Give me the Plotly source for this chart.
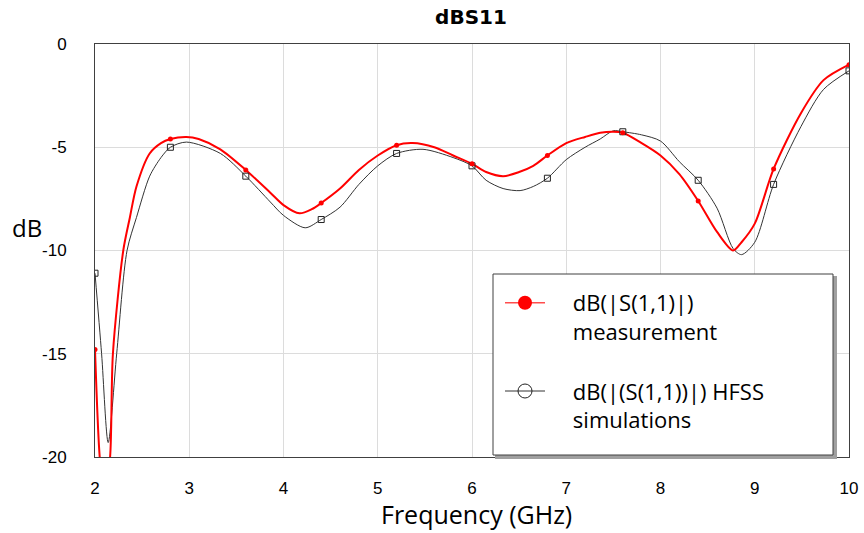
import plotly.graph_objects as go

# Measurement curve (red)
meas_x = [2.00, 2.05, 2.10, 2.16, 2.19, 2.30, 2.37, 2.44, 2.58, 2.70, 2.80, 2.97, 3.10, 3.33, 3.60,
          3.86, 4.00, 4.17, 4.30, 4.40, 4.60, 4.80, 5.00, 5.20, 5.37, 5.60, 5.80, 6.00, 6.15, 6.33,
          6.50, 6.65, 6.80, 7.00, 7.20, 7.36, 7.50, 7.60, 7.80, 8.00, 8.20, 8.40, 8.60, 8.77, 8.86,
          9.00, 9.20, 9.49, 9.73, 10.00]
meas_y = [-14.8, -20.0, -22.0, -20.0, -15.0, -10.0, -8.4, -6.9, -5.3, -4.8, -4.6, -4.5, -4.6, -5.1, -6.1,
          -7.2, -7.8, -8.2, -8.0, -7.7, -7.0, -6.1, -5.4, -4.9, -4.8, -5.0, -5.4, -5.8, -6.2, -6.4,
          -6.2, -5.9, -5.4, -4.8, -4.5, -4.3, -4.25, -4.3, -4.8, -5.4, -6.3, -7.6, -9.1, -10.0, -9.6,
          -8.7, -6.05, -3.35, -1.75, -1.0]

# HFSS simulation curve (black)
sim_x = [2.00, 2.07, 2.14, 2.23, 2.34, 2.44, 2.58, 2.70, 2.80, 2.97, 3.33, 3.60, 3.86, 4.00, 4.23,
         4.40, 4.60, 4.80, 5.00, 5.20, 5.48, 5.80, 6.00, 6.15, 6.33, 6.51, 6.65, 6.80, 7.00, 7.20,
         7.36, 7.50, 7.60, 7.80, 8.00, 8.20, 8.40, 8.60, 8.77, 8.86, 9.00, 9.20, 9.49, 9.73, 10.00]
sim_y = [-11.1, -15.0, -19.3, -15.0, -10.0, -8.4, -6.4, -5.5, -5.0, -4.75, -5.3, -6.4, -7.65, -8.3, -8.9,
         -8.5, -7.9, -6.8, -5.9, -5.3, -5.1, -5.5, -5.9, -6.6, -7.0, -7.1, -6.9, -6.5, -5.6, -5.0,
         -4.6, -4.2, -4.25, -4.4, -4.7, -5.7, -6.6, -7.95, -9.9, -10.2, -9.6, -6.8, -4.0, -2.2, -1.3]

# Marker positions (every 0.8 GHz)
mark_x = [2.0, 2.8, 3.6, 4.4, 5.2, 6.0, 6.8, 7.6, 8.4, 9.2, 10.0]
meas_mark_y = [-14.8, -4.6, -6.1, -7.7, -4.9, -5.8, -5.4, -4.3, -7.6, -6.05, -1.0]
sim_mark_y = [-11.1, -5.0, -6.4, -8.5, -5.3, -5.9, -6.5, -4.25, -6.6, -6.8, -1.3]

x_ticks = [2, 3, 4, 5, 6, 7, 8, 9, 10]
y_ticks = [0, -5, -10, -15, -20]

pad = "&nbsp;" * 4
legend_names = [pad + "dB(|S(1,1)|)<br>" + pad + "measurement",
                pad + "dB(|(S(1,1))|) HFSS<br>" + pad + "simulations"]

fig = go.Figure()

fig.add_trace(go.Scatter(x=sim_x, y=sim_y, mode="lines", line=dict(color="#333333", width=1, shape="spline", smoothing=0.8),
                         showlegend=False, hoverinfo="skip"))
fig.add_trace(go.Scatter(x=meas_x, y=meas_y, mode="lines", line=dict(color="#ff0000", width=2, shape="spline", smoothing=0.8),
                         showlegend=False, hoverinfo="skip"))
fig.add_trace(go.Scatter(x=mark_x, y=sim_mark_y, mode="markers",
                         marker=dict(symbol="square-open", size=6, color="#222222", line=dict(width=1)),
                         showlegend=False))
fig.add_trace(go.Scatter(x=mark_x, y=meas_mark_y, mode="markers",
                         marker=dict(symbol="circle", size=5, color="#ff0000"),
                         showlegend=False))

# legend-only entries
fig.add_trace(go.Scatter(x=[None], y=[None], mode="lines+markers", name=legend_names[0], legendgroup="a",
                         line=dict(color="#ff4d4d", width=1.5),
                         marker=dict(symbol="circle", size=14, color="#ff0000")))
fig.add_trace(go.Scatter(x=[None], y=[None], mode="lines+markers", name=legend_names[1], legendgroup="b",
                         line=dict(color="#333333", width=1),
                         marker=dict(symbol="circle-open", size=14, color="#222222", line=dict(width=1))))

# legend box
fig.add_shape(type="rect", xref="paper", yref="paper",
              x0=(496 - 95) / 754, x1=(836 - 95) / 754, y0=(457 - 458) / 413, y1=(457 - 277) / 413,
              line=dict(color="#a0a0a0", width=2), fillcolor="#a0a0a0", layer="above")
fig.add_shape(type="rect", xref="paper", yref="paper",
              x0=(493 - 95) / 754, x1=(833 - 95) / 754, y0=(457 - 455) / 413, y1=(457 - 274) / 413,
              line=dict(color="#404040", width=1), fillcolor="white", layer="above")

fig.add_annotation(text="dB", xref="paper", yref="y", x=-85 / 754, y=-8.9, xanchor="left", yanchor="middle",
                   showarrow=False, font=dict(family="Open Sans, sans-serif", size=24, color="#000000"))
fig.add_annotation(text="Frequency (GHz)", xref="paper", yref="paper", x=(477 - 95) / 754, y=(457 - 514) / 413,
                   xanchor="center", yanchor="middle", showarrow=False,
                   font=dict(family="Open Sans, sans-serif", size=25, color="#000000"))

fig.update_layout(
    width=864, height=533,
    margin=dict(l=95, r=15, t=44, b=76),
    paper_bgcolor="white", plot_bgcolor="white",
    title=dict(text="<b>dBS11</b>", x=471 / 864, xanchor="center", y=1 - 17 / 533, yanchor="middle",
               font=dict(family="DejaVu Sans, sans-serif", size=20, color="#000000")),
    font=dict(family="Liberation Sans, Arial, sans-serif", color="#000000"),
    showlegend=True,
    legend=dict(x=(500 - 95) / 754, y=(457 - 282) / 413, xanchor="left", yanchor="top",
                bgcolor="rgba(0,0,0,0)", borderwidth=0,
                font=dict(family="Open Sans, sans-serif", size=22, color="#000000"),
                itemwidth=40, traceorder="grouped", tracegroupgap=28, valign="top"),
    xaxis=dict(range=[2, 10], tickvals=x_ticks, ticktext=[str(v) for v in x_ticks],
               showgrid=True, gridcolor="#dcdcdc", gridwidth=1, automargin=False,
               showline=True, linecolor="#404040", linewidth=1, mirror=True,
               zeroline=False, ticks="", ticklabelstandoff=16,
               tickfont=dict(family="Liberation Sans, Arial, sans-serif", size=17, color="#000000")),
    yaxis=dict(range=[-20, 0], tickvals=y_ticks, ticktext=[str(v) for v in y_ticks],
               showgrid=True, gridcolor="#dcdcdc", gridwidth=1, automargin=False,
               showline=True, linecolor="#404040", linewidth=1, mirror=True,
               zeroline=False, ticks="", ticklabelstandoff=24,
               tickfont=dict(family="Liberation Sans, Arial, sans-serif", size=17, color="#000000")),
)

fig.write_html("out.html", config={"displayModeBar": False},
               post_script="document.body.style.margin='0px';document.body.style.overflow='hidden';")
